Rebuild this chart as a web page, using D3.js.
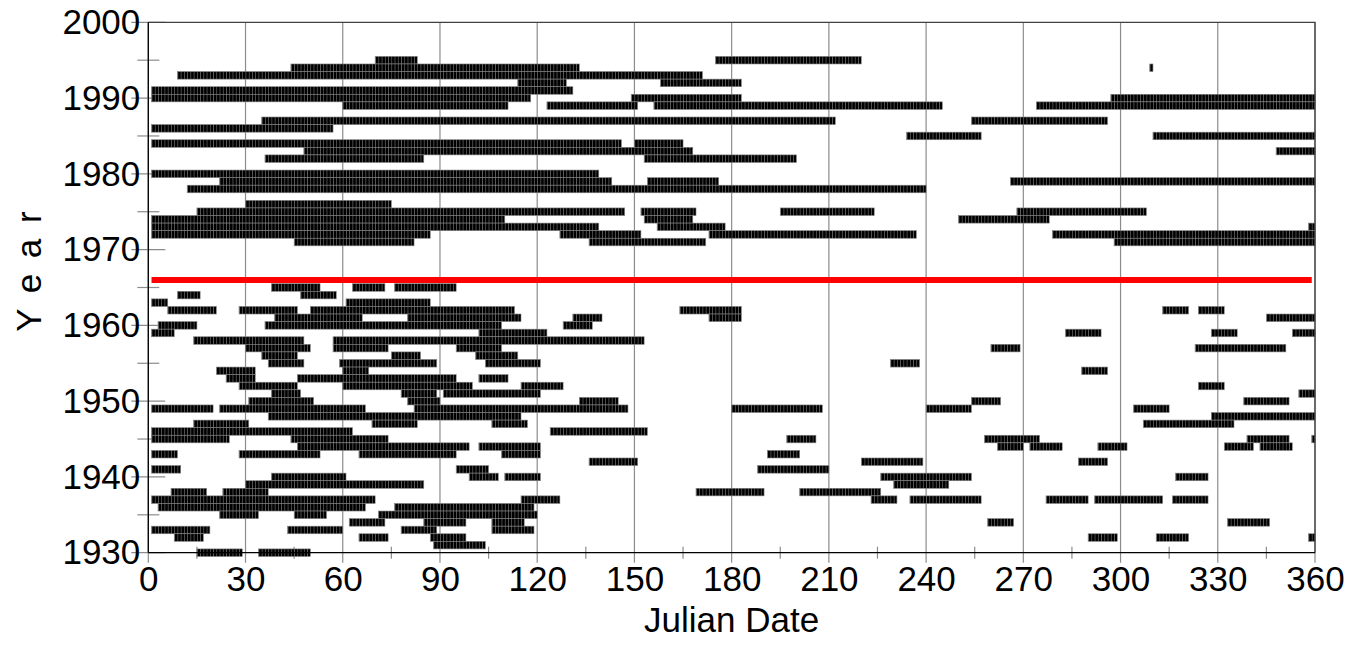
<!DOCTYPE html>
<html>
<head>
<meta charset="utf-8">
<title>Julian Date by Year</title>
<script src="https://cdn.jsdelivr.net/npm/d3@7"></script>
<style>
  html, body { margin: 0; padding: 0; background: #ffffff; }
  svg { display: block; }
  text { font-family: "Liberation Sans", Arial, sans-serif; fill: #000; }
</style>
</head>
<body>
<div id="chart"></div>
<script>
(function() {
  'use strict';

  // Rows (year) and the day ranges drawn in each row, same order
  const years = [
    1995, 1994, 1993, 1992, 1991, 1990, 1989, 1987, 1986, 1985, 1984, 1983, 1982,
    1980, 1979, 1978, 1976, 1975, 1974, 1973, 1972, 1971,
    1965, 1964, 1963, 1962, 1961, 1960, 1959, 1958, 1957, 1956, 1955, 1954,
    1953, 1952, 1951, 1950, 1949, 1948, 1947, 1946, 1945, 1944, 1943, 1942,
    1941, 1940, 1939, 1938, 1937, 1936, 1935, 1934, 1933, 1932, 1931, 1930
  ];

  const segments = [
    [[70, 83], [175, 220]],
    [[44, 133], [309, 310]],
    [[9, 171]],
    [[114, 129], [158, 183]],
    [[1, 131]],
    [[1, 118], [149, 183], [297, 360]],
    [[60, 111], [123, 151], [156, 245], [274, 360]],
    [[35, 212], [254, 296]],
    [[1, 57]],
    [[234, 257], [310, 360]],
    [[1, 146], [150, 165]],
    [[48, 168], [348, 360]],
    [[36, 85], [153, 200]],
    [[1, 139]],
    [[22, 143], [154, 176], [266, 360]],
    [[12, 240]],
    [[30, 75]],
    [[15, 147], [152, 169], [195, 224], [268, 308]],
    [[1, 110], [153, 168], [250, 278]],
    [[1, 139], [157, 178], [358, 360]],
    [[1, 87], [127, 152], [173, 237], [279, 360]],
    [[45, 82], [136, 172], [298, 360]],
    [[38, 53], [63, 73], [76, 95]],
    [[9, 16], [47, 58]],
    [[1, 6], [61, 87]],
    [[6, 21], [28, 46], [50, 113], [164, 183], [313, 321], [324, 332]],
    [[39, 66], [80, 115], [131, 140], [173, 183], [345, 360]],
    [[3, 15], [36, 109], [128, 137]],
    [[1, 8], [102, 123], [283, 294], [328, 336], [353, 360]],
    [[14, 48], [57, 153]],
    [[30, 50], [57, 74], [95, 109], [260, 269], [323, 351]],
    [[35, 46], [75, 84], [101, 114]],
    [[37, 48], [59, 89], [104, 121], [229, 238]],
    [[21, 33], [60, 68], [288, 296]],
    [[24, 33], [46, 95], [102, 111]],
    [[28, 46], [60, 100], [115, 128], [324, 332]],
    [[38, 47], [78, 89], [91, 121], [355, 360]],
    [[31, 51], [80, 90], [133, 145], [254, 263], [338, 352]],
    [[1, 20], [22, 67], [82, 148], [180, 208], [240, 254], [304, 315]],
    [[37, 115], [328, 360]],
    [[14, 31], [69, 83], [106, 117], [307, 335]],
    [[1, 63], [124, 154]],
    [[1, 25], [44, 74], [197, 206], [258, 275], [339, 352], [359, 360]],
    [[46, 99], [102, 121], [262, 270], [272, 282], [293, 302], [332, 341], [343, 353]],
    [[1, 9], [28, 53], [65, 95], [109, 121], [191, 201]],
    [[136, 151], [220, 239], [287, 296]],
    [[1, 10], [95, 105], [188, 210]],
    [[38, 61], [99, 108], [110, 121], [226, 254], [317, 327]],
    [[30, 85], [230, 247]],
    [[7, 18], [23, 37], [169, 190], [201, 226]],
    [[1, 70], [115, 127], [223, 231], [235, 257], [277, 290], [292, 313], [316, 327]],
    [[3, 67], [76, 119]],
    [[22, 34], [45, 55], [71, 120]],
    [[62, 73], [85, 98], [106, 116], [259, 267], [333, 346]],
    [[1, 19], [43, 60], [78, 89], [106, 119]],
    [[8, 17], [65, 74], [87, 98], [290, 299], [311, 321], [358, 360]],
    [[88, 104]],
    [[15, 29], [34, 50]]
  ];

  // Red marker line
  const markerYear = 1966;
  const markerDays = [1, 359];

  // Tick labels
  const xTicks = [0, 30, 60, 90, 120, 150, 180, 210, 240, 270, 300, 330, 360];
  const xMinorTicks = [15, 45, 75, 105, 135, 165, 195, 225, 255, 285, 315, 345];
  const yTicks = [1930, 1940, 1950, 1960, 1970, 1980, 1990, 2000];
  const yMinorTicks = [1935, 1945, 1955, 1965, 1975, 1985, 1995];

  const width = 1349;
  const height = 660;
  const margin = { top: 22.3, right: 34, bottom: 107.3, left: 148.3 };
  const plotW = width - margin.left - margin.right;
  const plotH = height - margin.top - margin.bottom;
  const fontSize = 35;

  const svg = d3.select('#chart')
    .append('svg')
    .attr('width', width)
    .attr('height', height)
    .style('background', '#ffffff');

  const x = d3.scaleLinear().domain([0, 360]).range([margin.left, margin.left + plotW]);
  const y = d3.scaleLinear().domain([1930, 2000]).range([margin.top + plotH, margin.top]);

  const bottom = y(1930);
  const dayW = x(1) - x(0);

  // Vertical day hatch used inside every bar
  const defs = svg.append('defs');
  const hatch = defs.append('pattern')
    .attr('id', 'day-hatch')
    .attr('patternUnits', 'userSpaceOnUse')
    .attr('x', x(0))
    .attr('y', 0)
    .attr('width', dayW)
    .attr('height', 20);
  hatch.append('rect')
    .attr('width', dayW)
    .attr('height', 20)
    .attr('fill', '#000000');
  hatch.append('line')
    .attr('x1', 0.4).attr('x2', 0.4)
    .attr('y1', 0).attr('y2', 20)
    .attr('stroke', '#6a6a6a')
    .attr('stroke-width', 0.8);

  // Gridlines (extend a little below the axis as the major ticks)
  svg.append('g').attr('class', 'grid')
    .selectAll('line')
    .data(xTicks)
    .enter()
    .append('line')
    .attr('x1', d => x(d)).attr('x2', d => x(d))
    .attr('y1', margin.top).attr('y2', bottom + 10)
    .attr('stroke', '#8c8c8c')
    .attr('stroke-width', 1.2);

  // Minor x ticks crossing the axis
  svg.append('g').attr('class', 'x-minor')
    .selectAll('line')
    .data(xMinorTicks)
    .enter()
    .append('line')
    .attr('x1', d => x(d)).attr('x2', d => x(d))
    .attr('y1', bottom - 6).attr('y2', bottom + 6)
    .attr('stroke', '#8c8c8c')
    .attr('stroke-width', 1.2);

  // Y ticks crossing the axis
  svg.append('g').attr('class', 'y-major')
    .selectAll('line')
    .data(yTicks)
    .enter()
    .append('line')
    .attr('x1', margin.left - 17).attr('x2', margin.left + 17)
    .attr('y1', d => y(d)).attr('y2', d => y(d))
    .attr('stroke', '#8c8c8c')
    .attr('stroke-width', 1.2);

  svg.append('g').attr('class', 'y-minor')
    .selectAll('line')
    .data(yMinorTicks)
    .enter()
    .append('line')
    .attr('x1', margin.left - 11).attr('x2', margin.left + 11)
    .attr('y1', d => y(d)).attr('y2', d => y(d))
    .attr('stroke', '#8c8c8c')
    .attr('stroke-width', 1.2);

  // Bars
  const bars = years.flatMap((yr, i) => segments[i].map(s => ({ year: yr, start: s[0], end: s[1] })));

  svg.append('g').attr('class', 'bars')
    .selectAll('rect')
    .data(bars)
    .enter()
    .append('rect')
    .attr('x', d => x(d.start))
    .attr('width', d => Math.max(x(d.end) - x(d.start), dayW * 0.8))
    .attr('y', d => y(d.year + 0.5))
    .attr('height', d => y(d.year - 0.5) - y(d.year + 0.5))
    .attr('fill', 'url(#day-hatch)')
    .attr('stroke', '#808080')
    .attr('stroke-width', 0.6);

  // Red marker line
  svg.append('line')
    .attr('class', 'marker')
    .attr('x1', x(markerDays[0])).attr('x2', x(markerDays[1]))
    .attr('y1', y(markerYear)).attr('y2', y(markerYear))
    .attr('stroke', '#ff0000')
    .attr('stroke-width', 6);

  // Frame
  svg.append('path')
    .attr('d', `M${x(0)},${y(2000)}H${x(360)}V${bottom}`)
    .attr('fill', 'none')
    .attr('stroke', '#404040')
    .attr('stroke-width', 1.3);

  svg.append('line')
    .attr('x1', x(0)).attr('x2', x(360))
    .attr('y1', bottom).attr('y2', bottom)
    .attr('stroke', '#000000')
    .attr('stroke-width', 1.3);

  svg.append('line')
    .attr('x1', x(0)).attr('x2', x(0))
    .attr('y1', y(2000)).attr('y2', bottom)
    .attr('stroke', '#000000')
    .attr('stroke-width', 1.3);

  // Tick labels
  const xAxis = svg.append('g')
    .attr('transform', `translate(0,${bottom})`)
    .call(d3.axisBottom(x).tickValues(xTicks).tickSize(0).tickPadding(13));
  xAxis.select('.domain').remove();
  xAxis.selectAll('text')
    .attr('font-size', fontSize)
    .style('font-family', '"Liberation Sans", Arial, sans-serif')
    .attr('fill', '#000');

  const yAxis = svg.append('g')
    .attr('transform', `translate(${margin.left},0)`)
    .call(d3.axisLeft(y).tickValues(yTicks).tickSize(0).tickPadding(8).tickFormat(d3.format('d')));
  yAxis.select('.domain').remove();
  yAxis.selectAll('text')
    .attr('font-size', fontSize)
    .style('font-family', '"Liberation Sans", Arial, sans-serif')
    .attr('fill', '#000');

  // Axis titles
  svg.append('text')
    .attr('x', (x(0) + x(360)) / 2)
    .attr('y', 632)
    .attr('text-anchor', 'middle')
    .attr('font-size', fontSize)
    .text('Julian Date');

  svg.append('text')
    .attr('transform', `translate(41,${y(1967.3)}) rotate(-90)`)
    .attr('text-anchor', 'middle')
    .attr('font-size', fontSize)
    .attr('letter-spacing', 3)
    .text('Y e a r');
})();
</script>
</body>
</html>
